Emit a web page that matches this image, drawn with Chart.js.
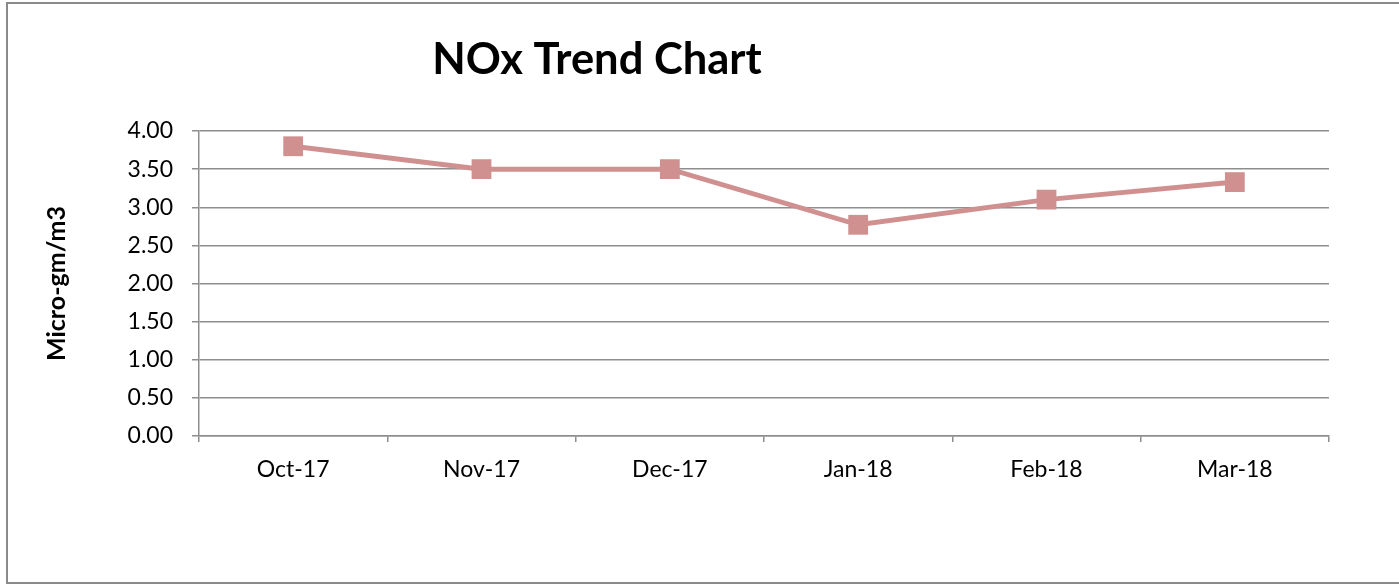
<!DOCTYPE html>
<html>
<head>
<meta charset="utf-8">
<script src="https://cdn.jsdelivr.net/npm/chart.js@4.4.1/dist/chart.umd.min.js"></script>
<style>
  html, body { margin: 0; padding: 0; background: #fff; }
  #wrap { width: 1399px; height: 585px; position: relative; }
</style>
</head>
<body>
<div id="wrap"><canvas id="c" width="1399" height="585"></canvas></div>
<script>
const categories = ["Oct-17", "Nov-17", "Dec-17", "Jan-18", "Feb-18", "Mar-18"];
const noxValues = [3.80, 3.50, 3.50, 2.77, 3.10, 3.33];
const chartTitle = "NOx Trend Chart";
const yAxisTitle = "Micro-gm/m3";

const FONT = "Lato, 'Open Sans', sans-serif";
const GRID = "#8e8e8e";
const LINE = "#D09090";

const frame = {
  id: 'frame',
  beforeDraw(chart) {
    const ctx = chart.ctx;
    ctx.save();
    ctx.fillStyle = '#fff';
    ctx.fillRect(0, 0, chart.width, chart.height);
    ctx.strokeStyle = '#8a8a8a';
    ctx.lineWidth = 2;
    ctx.strokeRect(7, 3, chart.width + 10, chart.height - 5);
    ctx.restore();
  }
};

const titleDraw = {
  id: 'titleDraw',
  afterDraw(chart, args, opts) {
    const ctx = chart.ctx;
    ctx.save();
    ctx.font = "bold 43.5px " + FONT;
    ctx.fillStyle = '#000';
    ctx.textAlign = 'center';
    ctx.textBaseline = 'alphabetic';
    ctx.fillText(opts.text, opts.x, opts.y);
    ctx.restore();
  }
};

new Chart(document.getElementById('c'), {
  type: 'line',
  data: {
    labels: categories,
    datasets: [{
      label: 'NOx',
      data: noxValues,
      borderColor: LINE,
      backgroundColor: LINE,
      borderWidth: 5,
      pointStyle: 'rect',
      pointRadius: 14,
      pointHoverRadius: 14,
      pointBorderWidth: 0,
      tension: 0
    }]
  },
  options: {
    responsive: false,
    animation: false,
    events: [],
    layout: { padding: { top: 131, right: 70, bottom: 0, left: 0 } },
    plugins: {
      legend: { display: false },
      tooltip: { enabled: false },
      title: { display: false },
      titleDraw: { text: chartTitle, x: 597, y: 74 }
    },
    scales: {
      x: {
        offset: true,
        grid: { offset: true, drawOnChartArea: false, drawTicks: true, tickLength: 6, color: GRID, lineWidth: 1.5 },
        border: { color: GRID, width: 1.5 },
        ticks: { color: '#000', font: { family: FONT, size: 23 }, padding: 14, maxRotation: 0 },
        afterFit(s) { s.height = 149; }
      },
      y: {
        min: 0, max: 4,
        ticks: { stepSize: 0.5, color: '#000', font: { family: FONT, size: 23 }, padding: 19,
                 callback: v => Number(v).toFixed(2) },
        grid: { color: GRID, lineWidth: 1.5, tickLength: 7 },
        border: { color: GRID, width: 1.5 },
        title: { display: true, text: yAxisTitle, color: '#000',
                 font: { family: FONT, size: 25, weight: 'bold' }, padding: { top: 42, bottom: 0 } },
        afterFit(s) { s.width = 199; }
      }
    }
  },
  plugins: [frame, titleDraw]
});
</script>
</body>
</html>
